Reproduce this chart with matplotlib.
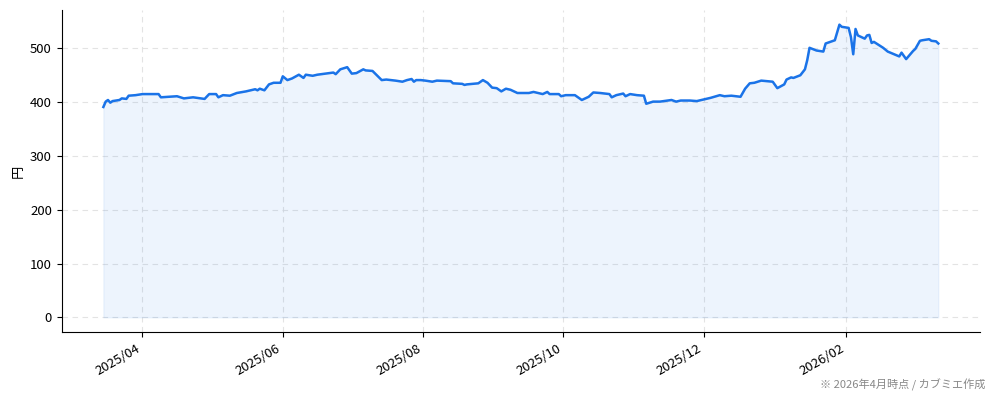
import matplotlib
matplotlib.use("Agg")
import matplotlib.pyplot as plt
import matplotlib.dates as mdates
import pandas as pd

plt.rcParams['font.family'] = ['Noto Sans CJK JP', 'DejaVu Sans']

dates = [
    "2025-03-15", "2025-03-16", "2025-03-17", "2025-03-18", "2025-03-19", "2025-03-22", "2025-03-23",
    "2025-03-25", "2025-03-26", "2025-03-29", "2025-04-01", "2025-04-08", "2025-04-09", "2025-04-16",
    "2025-04-19", "2025-04-23", "2025-04-28", "2025-04-30", "2025-05-03", "2025-05-04", "2025-05-06",
    "2025-05-09", "2025-05-12", "2025-05-16", "2025-05-20", "2025-05-21", "2025-05-22", "2025-05-24",
    "2025-05-26", "2025-05-28", "2025-05-31", "2025-06-01", "2025-06-03", "2025-06-05", "2025-06-08",
    "2025-06-10", "2025-06-11", "2025-06-14", "2025-06-16", "2025-06-23", "2025-06-24", "2025-06-26",
    "2025-06-29", "2025-07-01", "2025-07-03", "2025-07-06", "2025-07-07", "2025-07-10", "2025-07-14",
    "2025-07-16", "2025-07-20", "2025-07-23", "2025-07-25", "2025-07-27", "2025-07-28", "2025-07-29",
    "2025-07-31", "2025-08-02", "2025-08-05", "2025-08-07", "2025-08-13", "2025-08-14", "2025-08-18",
    "2025-08-19", "2025-08-20", "2025-08-25", "2025-08-27", "2025-08-29", "2025-08-31", "2025-09-02",
    "2025-09-04", "2025-09-06", "2025-09-08", "2025-09-11", "2025-09-16", "2025-09-18", "2025-09-22",
    "2025-09-24", "2025-09-25", "2025-09-29", "2025-09-30", "2025-10-02", "2025-10-06", "2025-10-09",
    "2025-10-12", "2025-10-14", "2025-10-17", "2025-10-21", "2025-10-22", "2025-10-24", "2025-10-27",
    "2025-10-28", "2025-10-30", "2025-11-02", "2025-11-05", "2025-11-06", "2025-11-09", "2025-11-12",
    "2025-11-17", "2025-11-19", "2025-11-21", "2025-11-25", "2025-11-28", "2025-12-02", "2025-12-04",
    "2025-12-08", "2025-12-10", "2025-12-13", "2025-12-17", "2025-12-19", "2025-12-21", "2025-12-23",
    "2025-12-26", "2025-12-31", "2026-01-02", "2026-01-05", "2026-01-06", "2026-01-08", "2026-01-09",
    "2026-01-12", "2026-01-14", "2026-01-15", "2026-01-16", "2026-01-19", "2026-01-22", "2026-01-23",
    "2026-01-27", "2026-01-29", "2026-01-30", "2026-02-02", "2026-02-03", "2026-02-04", "2026-02-05",
    "2026-02-06", "2026-02-09", "2026-02-10", "2026-02-11", "2026-02-12", "2026-02-13", "2026-02-17",
    "2026-02-19", "2026-02-24", "2026-02-25", "2026-02-27", "2026-03-02", "2026-03-03", "2026-03-05",
    "2026-03-06", "2026-03-09", "2026-03-10", "2026-03-12", "2026-03-13",
]
prices = [
    391, 401, 404, 399, 402, 404, 407,
    406, 412, 413, 415, 415, 409, 411,
    407, 409, 406, 415, 415, 409, 413,
    412, 417, 420, 424, 422, 425, 422,
    433, 436, 436, 448, 441, 444, 451,
    445, 451, 449, 451, 455, 452, 461,
    465, 453, 454, 461, 459, 458, 441,
    442, 440, 438, 441, 443, 438, 441,
    441, 440, 438, 440, 439, 435, 434,
    432, 433, 435, 441, 436, 427, 426,
    420, 425, 423, 417, 417, 419, 415,
    419, 415, 415, 411, 413, 413, 404,
    410, 418, 417, 415, 409, 413, 416,
    411, 415, 413, 412, 397, 401, 401,
    404, 401, 403, 403, 402, 406, 408,
    413, 411, 412, 410, 425, 435, 436,
    440, 438, 426, 433, 442, 446, 445,
    450, 461, 478, 501, 496, 494, 509,
    515, 544, 540, 538, 521, 489, 536,
    524, 518, 524, 525, 510, 512, 501,
    494, 485, 492, 480, 495, 499, 514,
    515, 517, 514, 513, 509,
]

y_label = "円"
note = "※ 2026年4月時点 / カブミエ作成"

x = pd.to_datetime(dates)
color = "#1a73e8"

fig = plt.figure(figsize=(9.94, 4.01), dpi=100)
ax = fig.add_axes([0.062, 0.172, 0.924, 0.803])
ax.plot(x, prices, color=color, linewidth=1.8, zorder=3)
ax.fill_between(x, prices, 0, color=color, alpha=0.08, linewidth=0.8, zorder=2)

ax.xaxis.set_major_locator(mdates.MonthLocator(bymonth=[2, 4, 6, 8, 10, 12]))
ax.xaxis.set_major_formatter(mdates.DateFormatter("%Y/%m"))
ax.set_yticks([0, 100, 200, 300, 400, 500])
ax.grid(True, linestyle=(0, (5, 4)), color="#dddddd", linewidth=0.8, alpha=0.8)
ax.set_axisbelow(True)
for s in ("top", "right"):
    ax.spines[s].set_visible(False)
ax.tick_params(labelsize=9.5)
plt.setp(ax.get_xticklabels(), rotation=30, ha="right")
ax.set_ylabel(y_label, fontsize=9.5)
fig.text(0.991, 0.025, note, ha="right", va="bottom", fontsize=8, color="#888888")

fig.savefig("out.png", dpi=100)
